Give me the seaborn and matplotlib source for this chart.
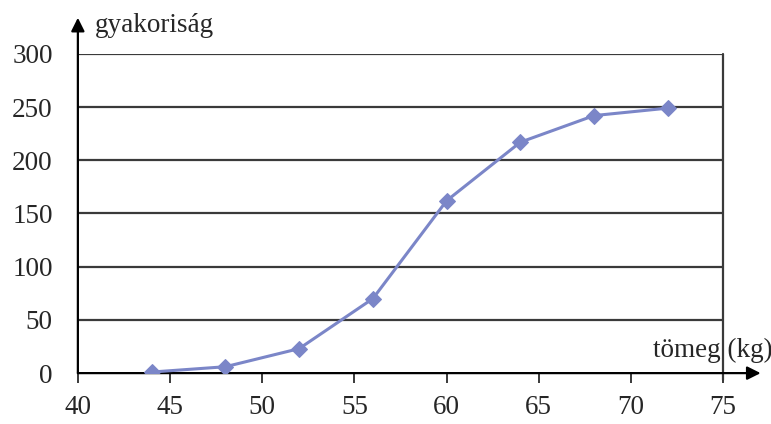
import matplotlib
matplotlib.use("Agg")
import matplotlib.pyplot as plt
import seaborn as sns
import pandas as pd

# data
tomeg = [44, 48, 52, 56, 60, 64, 68, 72]
gyakorisag = [1, 6, 23, 70, 162, 217, 242, 249]
x_ticks = [40, 45, 50, 55, 60, 65, 70, 75]
y_ticks = [0, 50, 100, 150, 200, 250, 300]

sns.set_theme(style="white")
plt.rcParams['font.family'] = ['Liberation Serif', 'DejaVu Serif']

df = pd.DataFrame({"tomeg": tomeg, "gyakorisag": gyakorisag})

fig = plt.figure(figsize=(7.71, 4.24), dpi=100)
ax = fig.add_axes([0.101, 0.120, 0.837, 0.753])

line_col = "#7b86c8"
axis_col = "#3a3a3a"
fs = 19.5

sns.lineplot(data=df, x="tomeg", y="gyakorisag", ax=ax, color=line_col,
             marker="D", markersize=8, markeredgecolor=line_col, linewidth=2.2, zorder=5)

ax.set_xlim(40, 75)
ax.set_ylim(0, 300)
ax.set_xticks(x_ticks)
ax.set_yticks(y_ticks)
ax.set_xticklabels([str(v) for v in x_ticks], fontsize=fs)
ax.set_yticklabels([str(v) for v in y_ticks], fontsize=fs)
ax.set_xlabel("")
ax.set_ylabel("")

for v in y_ticks[1:]:
    ax.axhline(v, color=axis_col, linewidth=1.6, zorder=1)

for s in ["top", "bottom", "right", "left"]:
    ax.spines[s].set_visible(False)

# right border of plot area
ax.plot([1, 1], [-0.02, 1], transform=ax.transAxes, color=axis_col, lw=1.6, clip_on=False)

# x axis with arrow
ax.annotate("", xy=(1.058, 0), xytext=(0, 0), xycoords="axes fraction",
            textcoords="axes fraction",
            arrowprops=dict(arrowstyle="-|>", color="black", lw=1.6,
                            mutation_scale=20, shrinkA=0, shrinkB=0))
# y axis with arrow
ax.annotate("", xy=(0, 1.113), xytext=(0, 0), xycoords="axes fraction",
            textcoords="axes fraction",
            arrowprops=dict(arrowstyle="-|>", color="black", lw=1.6,
                            mutation_scale=20, shrinkA=0, shrinkB=0))

ax.tick_params(axis="x", direction="out", length=7, width=1.4, color=axis_col,
               bottom=True, pad=9, labelsize=fs)
ax.tick_params(axis="y", length=0, pad=18, labelsize=fs)

ax.text(0.027, 1.09, "gyakoriság", transform=ax.transAxes, fontsize=fs,
        ha="left", va="center")
ax.text(1.076, 0.072, "tömeg (kg)", transform=ax.transAxes, fontsize=fs,
        ha="right", va="center")

fig.savefig("out.png", dpi=100)
